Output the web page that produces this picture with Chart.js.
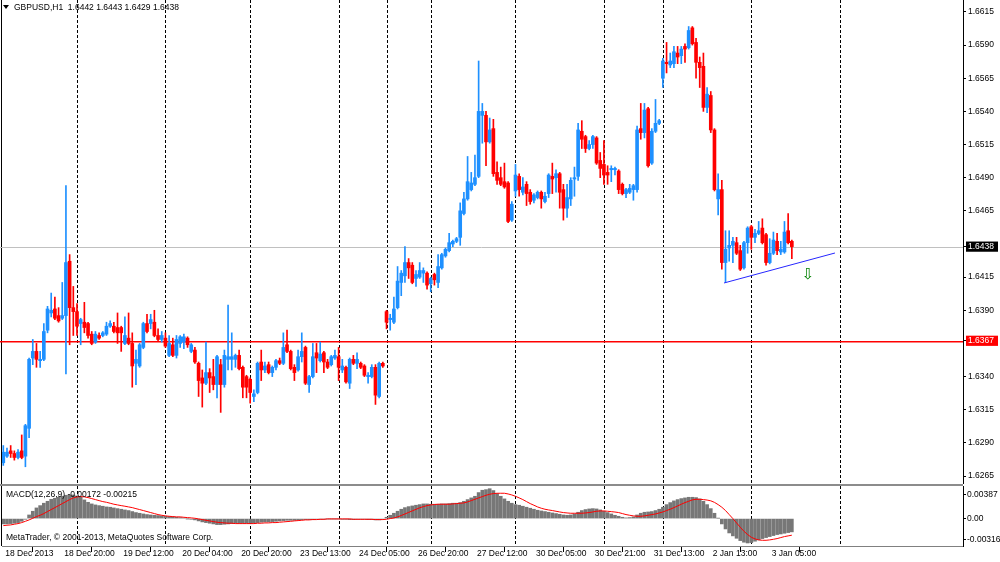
<!DOCTYPE html>
<html><head><meta charset="utf-8">
<script src="https://cdn.jsdelivr.net/npm/chart.js@4.4.0/dist/chart.umd.min.js"></script>
<style>
html,body{margin:0;padding:0;background:#fff;}
#wrap{position:relative;width:1000px;height:562px;overflow:hidden;background:#fff;}
#mainBox{position:absolute;left:0;top:0;width:1000px;height:484px;}
#sep{position:absolute;left:0;top:484px;width:963px;height:2px;background:#8c8c8c;}
#macdBox{position:absolute;left:0;top:486px;width:1000px;height:76px;}
</style></head><body>
<div id="wrap"><div id="mainBox"><canvas id="main"></canvas></div><div id="sep"></div><div id="macdBox"><canvas id="macd"></canvas></div></div>
<script>
// ---- GBPUSD H1 candles (bar index 0 = 18 Dec 2013 04:00) ----
const opens = [
1.6275,1.6280,1.6284,1.6282,1.6279,1.6284,1.6280,1.6301,1.6354,1.6359,
1.6352,1.6353,1.6375,1.6388,1.6391,1.6386,1.6384,1.6386,1.6427,1.6392,
1.6389,1.6380,1.6381,1.6380,1.6372,1.6366,1.6371,1.6371,1.6372,1.6378,
1.6378,1.6377,1.6377,1.6365,1.6369,1.6365,1.6350,1.6348,1.6362,1.6380,
1.6380,1.6381,1.6371,1.6368,1.6369,1.6356,1.6364,1.6356,1.6365,1.6366,
1.6369,1.6359,1.6360,1.6350,1.6339,1.6335,1.6343,1.6340,1.6334,1.6349,
1.6334,1.6353,1.6353,1.6353,1.6356,1.6347,1.6340,1.6338,1.6325,1.6328,
1.6351,1.6345,1.6349,1.6343,1.6347,1.6352,1.6350,1.6364,1.6359,1.6347,
1.6345,1.6355,1.6362,1.6334,1.6340,1.6358,1.6352,1.6358,1.6351,1.6349,
1.6354,1.6355,1.6345,1.6347,1.6335,1.6353,1.6350,1.6350,1.6348,1.6340,
1.6340,1.6347,1.6325,1.6350,1.6389,1.6383,1.6381,1.6392,1.6411,1.6416,
1.6426,1.6424,1.6414,1.6415,1.6418,1.6418,1.6410,1.6417,1.6411,1.6422,
1.6431,1.6435,1.6440,1.6442,1.6445,1.6463,1.6474,1.6481,1.6485,1.6491,
1.6537,1.6537,1.6517,1.6527,1.6494,1.6490,1.6487,1.6486,1.6458,1.6480,
1.6491,1.6479,1.6485,1.6479,1.6473,1.6475,1.6479,1.6472,1.6478,1.6491,
1.6490,1.6493,1.6481,1.6467,1.6474,1.6489,1.6491,1.6525,1.6521,1.6512,
1.6515,1.6520,1.6503,1.6500,1.6494,1.6496,1.6496,1.6495,1.6485,1.6478,
1.6479,1.6481,1.6481,1.6527,1.6524,1.6542,1.6501,1.6525,1.6531,1.6565,
1.6577,1.6575,1.6576,1.6584,1.6582,1.6589,1.6588,1.6603,1.6592,1.6577,
1.6574,1.6543,1.6552,1.6526,1.6474,1.6481,1.6426,1.6437,1.6439,1.6441,
1.6435,1.6422,1.6441,1.6453,1.6445,1.6448,1.6452,1.6447,1.6426,1.6433,
1.6442,1.6434,1.6434,1.6450,1.6442];
const highs = [
1.6288,1.6286,1.6288,1.6284,1.6285,1.6296,1.6304,1.6354,1.6368,1.6365,
1.6359,1.6380,1.6393,1.6403,1.6400,1.6392,1.6411,1.6484,1.6432,1.6408,
1.6395,1.6384,1.6396,1.6381,1.6374,1.6374,1.6373,1.6374,1.6381,1.6382,
1.6381,1.6388,1.6378,1.6385,1.6388,1.6373,1.6360,1.6365,1.6381,1.6387,
1.6387,1.6390,1.6376,1.6374,1.6373,1.6371,1.6369,1.6371,1.6371,1.6372,
1.6370,1.6365,1.6362,1.6351,1.6345,1.6366,1.6346,1.6353,1.6356,1.6353,
1.6360,1.6394,1.6373,1.6357,1.6360,1.6348,1.6341,1.6339,1.6330,1.6351,
1.6360,1.6351,1.6351,1.6348,1.6353,1.6354,1.6373,1.6375,1.6360,1.6349,
1.6360,1.6373,1.6363,1.6341,1.6365,1.6365,1.6366,1.6359,1.6353,1.6356,
1.6360,1.6362,1.6353,1.6348,1.6354,1.6356,1.6358,1.6351,1.6349,1.6343,
1.6349,1.6349,1.6351,1.6351,1.6390,1.6387,1.6400,1.6423,1.6420,1.6438,
1.6429,1.6426,1.6420,1.6426,1.6422,1.6419,1.6415,1.6418,1.6432,1.6433,
1.6437,1.6448,1.6443,1.6445,1.6471,1.6479,1.6506,1.6494,1.6507,1.6578,
1.6546,1.6540,1.6535,1.6534,1.6502,1.6498,1.6501,1.6487,1.6472,1.6500,
1.6493,1.6490,1.6487,1.6481,1.6478,1.6480,1.6480,1.6479,1.6493,1.6501,
1.6496,1.6494,1.6485,1.6485,1.6490,1.6498,1.6531,1.6533,1.6522,1.6518,
1.6522,1.6521,1.6509,1.6518,1.6499,1.6499,1.6498,1.6496,1.6486,1.6482,
1.6485,1.6485,1.6529,1.6546,1.6546,1.6543,1.6527,1.6549,1.6534,1.6580,
1.6592,1.6584,1.6589,1.6589,1.6589,1.6591,1.6604,1.6604,1.6595,1.6581,
1.6584,1.6558,1.6555,1.6527,1.6493,1.6488,1.6450,1.6450,1.6445,1.6445,
1.6439,1.6442,1.6453,1.6454,1.6451,1.6457,1.6459,1.6448,1.6444,1.6449,
1.6448,1.6442,1.6457,1.6463,1.6443];
const lows = [
1.6273,1.6279,1.6279,1.6277,1.6278,1.6278,1.6272,1.6294,1.6349,1.6347,
1.6347,1.6352,1.6373,1.6385,1.6383,1.6381,1.6383,1.6342,1.6364,1.6371,
1.6371,1.6364,1.6373,1.6369,1.6364,1.6365,1.6368,1.6370,1.6371,1.6377,
1.6373,1.6365,1.6359,1.6364,1.6364,1.6332,1.6334,1.6347,1.6361,1.6373,
1.6376,1.6370,1.6367,1.6366,1.6362,1.6355,1.6355,1.6354,1.6362,1.6361,
1.6362,1.6358,1.6350,1.6325,1.6317,1.6334,1.6328,1.6330,1.6324,1.6313,
1.6332,1.6345,1.6345,1.6347,1.6345,1.6324,1.6324,1.6320,1.6321,1.6327,
1.6337,1.6343,1.6342,1.6340,1.6345,1.6349,1.6349,1.6358,1.6345,1.6337,
1.6344,1.6351,1.6334,1.6328,1.6339,1.6343,1.6351,1.6343,1.6346,1.6348,
1.6353,1.6337,1.6343,1.6335,1.6331,1.6349,1.6346,1.6346,1.6340,1.6335,
1.6339,1.6319,1.6324,1.6347,1.6376,1.6375,1.6380,1.6391,1.6401,1.6411,
1.6414,1.6410,1.6408,1.6414,1.6411,1.6406,1.6404,1.6409,1.6407,1.6421,
1.6430,1.6434,1.6438,1.6441,1.6439,1.6462,1.6473,1.6480,1.6484,1.6490,
1.6516,1.6499,1.6516,1.6491,1.6485,1.6484,1.6482,1.6456,1.6457,1.6476,
1.6476,1.6477,1.6469,1.6470,1.6471,1.6474,1.6467,1.6471,1.6475,1.6478,
1.6479,1.6467,1.6458,1.6460,1.6469,1.6476,1.6488,1.6512,1.6509,1.6511,
1.6512,1.6500,1.6490,1.6485,1.6485,1.6487,1.6492,1.6478,1.6477,1.6475,
1.6478,1.6473,1.6479,1.6519,1.6520,1.6498,1.6500,1.6524,1.6530,1.6558,
1.6569,1.6573,1.6573,1.6576,1.6576,1.6577,1.6587,1.6590,1.6565,1.6558,
1.6540,1.6539,1.6524,1.6480,1.6462,1.6421,1.6411,1.6427,1.6426,1.6432,
1.6420,1.6421,1.6433,1.6436,1.6441,1.6447,1.6440,1.6424,1.6425,1.6432,
1.6432,1.6432,1.6433,1.6440,1.6429];
const closes = [
1.6283,1.6283,1.6282,1.6279,1.6283,1.6279,1.6303,1.6353,1.6359,1.6353,
1.6353,1.6374,1.6391,1.6390,1.6384,1.6382,1.6386,1.6426,1.6392,1.6389,
1.6378,1.6383,1.6377,1.6371,1.6365,1.6372,1.6369,1.6373,1.6378,1.6380,
1.6374,1.6373,1.6373,1.6371,1.6365,1.6348,1.6353,1.6364,1.6380,1.6374,
1.6383,1.6371,1.6368,1.6371,1.6363,1.6365,1.6356,1.6368,1.6370,1.6370,
1.6364,1.6364,1.6351,1.6337,1.6335,1.6343,1.6339,1.6334,1.6355,1.6334,
1.6356,1.6355,1.6355,1.6356,1.6346,1.6332,1.6332,1.6328,1.6327,1.6350,
1.6345,1.6348,1.6343,1.6347,1.6352,1.6350,1.6362,1.6359,1.6346,1.6343,
1.6355,1.6359,1.6335,1.6340,1.6355,1.6354,1.6357,1.6351,1.6347,1.6355,
1.6356,1.6347,1.6348,1.6336,1.6353,1.6350,1.6353,1.6347,1.6341,1.6341,
1.6347,1.6326,1.6350,1.6348,1.6381,1.6384,1.6391,1.6412,1.6418,1.6426,
1.6422,1.6411,1.6417,1.6420,1.6420,1.6409,1.6414,1.6413,1.6423,1.6432,
1.6436,1.6441,1.6442,1.6444,1.6465,1.6474,1.6487,1.6486,1.6490,1.6540,
1.6540,1.6517,1.6526,1.6493,1.6488,1.6485,1.6483,1.6457,1.6470,1.6492,
1.6481,1.6483,1.6478,1.6472,1.6477,1.6479,1.6474,1.6476,1.6492,1.6489,
1.6493,1.6479,1.6467,1.6475,1.6488,1.6490,1.6526,1.6519,1.6512,1.6515,
1.6521,1.6501,1.6497,1.6492,1.6492,1.6497,1.6497,1.6481,1.6478,1.6481,
1.6482,1.6484,1.6526,1.6524,1.6541,1.6499,1.6525,1.6531,1.6533,1.6578,
1.6576,1.6578,1.6585,1.6581,1.6587,1.6587,1.6601,1.6591,1.6577,1.6573,
1.6543,1.6553,1.6526,1.6481,1.6481,1.6426,1.6436,1.6439,1.6442,1.6433,
1.6421,1.6441,1.6452,1.6445,1.6448,1.6450,1.6441,1.6426,1.6433,1.6443,
1.6435,1.6436,1.6449,1.6441,1.6438];

// ---- MACD(12,26,9) ----
const macdHist = [
-0.00069,-0.00069,-0.00065,-0.00060,-0.00052,-0.00035,-0.00009,0.00047,0.00095,0.00138,
0.00168,0.00199,0.00224,0.00250,0.00263,0.00276,0.00289,0.00302,0.00306,0.00306,
0.00293,0.00276,0.00242,0.00211,0.00190,0.00177,0.00168,0.00160,0.00151,0.00147,
0.00138,0.00129,0.00121,0.00112,0.00104,0.00091,0.00078,0.00069,0.00060,0.00052,
0.00047,0.00043,0.00039,0.00035,0.00030,0.00026,0.00022,0.00017,0.00013,0.00009,
-0.00002,-0.00009,-0.00017,-0.00030,-0.00043,-0.00052,-0.00060,-0.00069,-0.00078,-0.00078,
-0.00073,-0.00069,-0.00065,-0.00060,-0.00060,-0.00060,-0.00060,-0.00060,-0.00056,-0.00052,
-0.00047,-0.00043,-0.00043,-0.00039,-0.00035,-0.00030,-0.00026,-0.00022,-0.00022,-0.00022,
-0.00017,-0.00013,-0.00013,-0.00013,-0.00013,-0.00009,-0.00009,-0.00009,-0.00004,-0.00004,
-0.00004,-0.00004,-0.00009,-0.00009,-0.00013,-0.00013,-0.00009,-0.00009,-0.00009,-0.00013,
-0.00013,-0.00017,-0.00017,-0.00009,0.00017,0.00043,0.00069,0.00095,0.00121,0.00142,
0.00155,0.00164,0.00173,0.00181,0.00190,0.00190,0.00186,0.00186,0.00186,0.00190,
0.00190,0.00194,0.00199,0.00199,0.00207,0.00224,0.00246,0.00268,0.00289,0.00337,
0.00367,0.00375,0.00387,0.00363,0.00324,0.00289,0.00255,0.00224,0.00199,0.00181,
0.00173,0.00160,0.00147,0.00134,0.00121,0.00108,0.00099,0.00091,0.00082,0.00073,
0.00065,0.00056,0.00047,0.00043,0.00047,0.00060,0.00082,0.00104,0.00117,0.00125,
0.00129,0.00125,0.00112,0.00095,0.00078,0.00060,0.00043,0.00030,0.00017,0.00009,
0.00013,0.00022,0.00047,0.00069,0.00082,0.00086,0.00091,0.00104,0.00121,0.00147,
0.00181,0.00207,0.00229,0.00246,0.00259,0.00268,0.00276,0.00276,0.00272,0.00255,
0.00224,0.00181,0.00129,0.00069,0.00004,-0.00069,-0.00134,-0.00186,-0.00224,-0.00255,
-0.00285,-0.00306,-0.00316,-0.00311,-0.00293,-0.00276,-0.00259,-0.00246,-0.00233,-0.00220,
-0.00207,-0.00199,-0.00190,-0.00181,-0.00172];
const macdSignal = [
-0.00091,-0.00086,-0.00082,-0.00073,-0.00065,-0.00052,-0.00035,-0.00017,0.00004,0.00026,
0.00043,0.00065,0.00091,0.00117,0.00142,0.00168,0.00194,0.00220,0.00246,0.00268,
0.00281,0.00285,0.00281,0.00272,0.00259,0.00246,0.00233,0.00220,0.00211,0.00199,
0.00186,0.00177,0.00168,0.00160,0.00151,0.00142,0.00129,0.00117,0.00104,0.00091,
0.00078,0.00065,0.00052,0.00043,0.00035,0.00030,0.00026,0.00022,0.00022,0.00017,
0.00013,0.00009,0.00004,-0.00004,-0.00013,-0.00022,-0.00030,-0.00039,-0.00047,-0.00052,
-0.00056,-0.00060,-0.00060,-0.00065,-0.00065,-0.00065,-0.00065,-0.00065,-0.00065,-0.00060,
-0.00060,-0.00056,-0.00056,-0.00052,-0.00052,-0.00047,-0.00043,-0.00039,-0.00035,-0.00030,
-0.00026,-0.00022,-0.00017,-0.00017,-0.00013,-0.00013,-0.00009,-0.00009,-0.00004,-0.00004,
-0.00004,-0.00004,-0.00004,-0.00004,-0.00004,-0.00009,-0.00009,-0.00009,-0.00009,-0.00009,
-0.00009,-0.00013,-0.00013,-0.00013,-0.00009,0.00000,0.00008,0.00022,0.00040,0.00060,
0.00080,0.00100,0.00120,0.00140,0.00155,0.00168,0.00177,0.00182,0.00186,0.00186,
0.00186,0.00186,0.00190,0.00194,0.00199,0.00203,0.00216,0.00233,0.00250,0.00268,
0.00285,0.00302,0.00315,0.00324,0.00328,0.00328,0.00328,0.00319,0.00306,0.00289,
0.00268,0.00246,0.00220,0.00194,0.00173,0.00151,0.00134,0.00121,0.00112,0.00104,
0.00095,0.00086,0.00078,0.00073,0.00069,0.00069,0.00069,0.00069,0.00073,0.00078,
0.00086,0.00095,0.00099,0.00099,0.00095,0.00090,0.00085,0.00078,0.00065,0.00052,
0.00043,0.00035,0.00030,0.00030,0.00035,0.00043,0.00052,0.00060,0.00073,0.00086,
0.00104,0.00121,0.00142,0.00164,0.00186,0.00207,0.00224,0.00242,0.00250,0.00250,
0.00246,0.00240,0.00230,0.00210,0.00181,0.00147,0.00104,0.00052,0.00000,-0.00056,
-0.00112,-0.00164,-0.00207,-0.00242,-0.00263,-0.00276,-0.00281,-0.00281,-0.00276,-0.00268,
-0.00259,-0.00246,-0.00233,-0.00224,-0.00215];

// ---- axis / annotation data ----
const tickBars = [0,16,32,48,64,80,96,112,128,144,160,176,192,208];
const tickLabels = ['18 Dec 2013','18 Dec 20:00','19 Dec 12:00','20 Dec 04:00','20 Dec 20:00','23 Dec 13:00','24 Dec 05:00','26 Dec 20:00','27 Dec 12:00','30 Dec 05:00','30 Dec 21:00','31 Dec 13:00','2 Jan 13:00','3 Jan 05:00'];
const separatorBars = [20,44,67,91,104,116,139,163,179,203,227];
const priceTicks = [1.6615,1.6590,1.6565,1.6540,1.6515,1.6490,1.6465,1.6438,1.6415,1.6390,1.6367,1.6340,1.6315,1.6290,1.6265];
const bidPrice = 1.6438;
const levelPrice = 1.6367;
const trendBars = [195.6, 225.7];
const trendPrices = [1.64106, 1.64332];
const arrowBars = [218.4];
const arrowPrices = [1.64166];
const macdTickValues = [0.00306, 0, -0.00273];
const macdTickLabels = ['0.00387','0.00','-0.00316'];
const titleText = 'GBPUSD,H1  1.6442 1.6443 1.6429 1.6438';
const macdText = 'MACD(12,26,9) -0.00172 -0.00215';
const copyText = 'MetaTrader, \u00a9 2001-2013, MetaQuotes Software Corp.';

// ---- chart setup ----
const FONT = "'Liberation Sans', Arial, sans-serif";
const FSIZE = 8.5;
Chart.defaults.font.family = FONT;
Chart.defaults.font.size = FSIZE;
Chart.defaults.color = '#000';
const UP = '#1e90ff', DOWN = '#ff0000';
const X_MIN = -0.353, X_MAX = 260.45;
const idx = opens.map((_, i) => i);
const isUp = idx.map(i => closes[i] >= opens[i]);

function vAxisFit(w) { return s => { s.width = w; s.paddingTop = 0; s.paddingBottom = 0; }; }

function drawSeparators(chart) {
  const {ctx, chartArea: a, scales: {x}} = chart;
  ctx.save();
  ctx.strokeStyle = '#000'; ctx.lineWidth = 1; ctx.setLineDash([3, 2]);
  separatorBars.forEach(b => {
    const px = Math.round(x.getPixelForValue(b)) + 0.5;
    ctx.beginPath(); ctx.moveTo(px, a.top); ctx.lineTo(px, a.bottom); ctx.stroke();
  });
  ctx.setLineDash([]);
  ctx.beginPath(); ctx.moveTo(1.5, a.top); ctx.lineTo(1.5, a.bottom); ctx.stroke();
  ctx.restore();
}

function hLine(chart, price, color, width, shift) {
  const {ctx, chartArea: a, scales: {y}} = chart;
  const py = Math.round(y.getPixelForValue(price)) + shift;
  ctx.save();
  ctx.setLineDash([]);
  ctx.lineWidth = width;
  ctx.strokeStyle = color;
  ctx.beginPath(); ctx.moveTo(0, py); ctx.lineTo(a.right, py); ctx.stroke();
  ctx.restore();
}

const mainDecor = {
  id: 'mainDecor',
  beforeDatasetsDraw(chart) {
    drawSeparators(chart);
    hLine(chart, bidPrice, '#c0c0c0', 1, 0.5);
    hLine(chart, levelPrice, '#ff0000', 1.5, 0.75);
  },
  afterDatasetsDraw(chart) {
    const {ctx, scales: {x, y}} = chart;
    ctx.save();
    ctx.fillStyle = '#008000';
    ctx.font = "15px 'DejaVu Sans'";
    ctx.textAlign = 'center'; ctx.textBaseline = 'middle';
    arrowBars.forEach((b, i) => ctx.fillText('\u21e9', x.getPixelForValue(b), y.getPixelForValue(arrowPrices[i])));
    ctx.fillStyle = '#000';
    ctx.beginPath(); ctx.moveTo(3, 5); ctx.lineTo(9, 5); ctx.lineTo(6, 9); ctx.closePath(); ctx.fill();
    ctx.font = FSIZE + 'px ' + FONT; ctx.textAlign = 'left'; ctx.textBaseline = 'middle';
    ctx.fillText(titleText, 14, 7.5);
    ctx.restore();
  }
};

const macdDecor = {
  id: 'macdDecor',
  beforeDatasetsDraw(chart) { drawSeparators(chart); },
  afterDatasetsDraw(chart) {
    const {ctx, chartArea: a} = chart;
    ctx.save();
    ctx.fillStyle = '#000'; ctx.font = FSIZE + 'px ' + FONT; ctx.textAlign = 'left'; ctx.textBaseline = 'middle';
    ctx.fillText(macdText, 6, a.top + 9);
    ctx.fillText(copyText, 6, a.top + 52);
    ctx.restore();
  }
};

const common = {
  responsive: true, maintainAspectRatio: false, animation: false, devicePixelRatio: 1, events: [],
  plugins: {legend: {display: false}, tooltip: {enabled: false}}
};

new Chart(document.getElementById('main'), {
  type: 'bar',
  data: {datasets: [
    {type: 'line', data: trendBars.map((b, i) => ({x: b, y: trendPrices[i]})), borderColor: '#2626ff', borderWidth: 1, pointRadius: 0, order: 0},
    {data: idx.map(i => ({x: i, y: [opens[i], closes[i]]})), backgroundColor: idx.map(i => isUp[i] ? UP : DOWN), barThickness: 3, minBarLength: 1, grouped: false, order: 1},
    {data: idx.map(i => ({x: i, y: [lows[i], highs[i]]})), backgroundColor: idx.map(i => isUp[i] ? UP : DOWN), barThickness: 1, grouped: false, order: 2}
  ]},
  options: Object.assign({}, common, {
    layout: {padding: {left: 2, right: 0, top: 0, bottom: 0}},
    scales: {
      x: {type: 'linear', min: X_MIN, max: X_MAX, offset: false, display: false},
      y: {
        position: 'right', min: 1.62590, max: 1.66240, beginAtZero: false,
        afterFit: vAxisFit(37),
        afterBuildTicks: s => { s.ticks = priceTicks.map(v => ({value: v})); },
        ticks: {
          padding: 2,
          callback: v => v.toFixed(4),
          color: c => (c.tick && (c.tick.value === bidPrice || c.tick.value === levelPrice)) ? '#fff' : '#000',
          showLabelBackdrop: c => !!(c.tick && (c.tick.value === bidPrice || c.tick.value === levelPrice)),
          backdropColor: c => (c.tick && c.tick.value === bidPrice) ? '#000' : '#ff0000',
          backdropPadding: {top: 0, bottom: 0, left: 2, right: 4}
        },
        grid: {display: true, drawOnChartArea: false, drawTicks: true, tickLength: 3, color: '#000'},
        border: {display: true, color: '#000'}
      }
    }
  }),
  plugins: [mainDecor]
});

new Chart(document.getElementById('macd'), {
  type: 'bar',
  data: {datasets: [
    {type: 'line', data: idx.map(i => ({x: i, y: macdSignal[i]})), borderColor: '#ff0000', borderWidth: 1, pointRadius: 0, order: 0},
    {data: idx.map(i => ({x: i, y: macdHist[i]})), backgroundColor: '#777777', barThickness: 3, grouped: false, order: 1}
  ]},
  options: Object.assign({}, common, {
    layout: {padding: {left: 2, right: 0, top: 0, bottom: 0}},
    scales: {
      x: {
        type: 'linear', min: X_MIN, max: X_MAX, offset: false,
        afterFit: s => { s.height = 16; s.paddingLeft = 0; s.paddingRight = 0; },
        afterBuildTicks: s => { s.ticks = tickBars.map(v => ({value: v})); },
        ticks: {callback: (v, i) => tickLabels[i], align: 'start', labelOffset: 2, padding: -3, autoSkip: false, maxRotation: 0, minRotation: 0},
        grid: {display: true, drawOnChartArea: false, drawTicks: true, tickLength: 6, color: '#000'},
        border: {display: true, color: '#808080'}
      },
      y: {
        position: 'right', min: -0.00355, max: 0.00422, beginAtZero: false,
        afterFit: vAxisFit(37),
        afterBuildTicks: s => { s.ticks = macdTickValues.map(v => ({value: v})); },
        ticks: {padding: 1, callback: (v, i) => macdTickLabels[i]},
        grid: {display: true, drawOnChartArea: false, drawTicks: true, tickLength: 3, color: '#000'},
        border: {display: true, color: '#000'}
      }
    }
  }),
  plugins: [macdDecor]
});
</script>
</body></html>
